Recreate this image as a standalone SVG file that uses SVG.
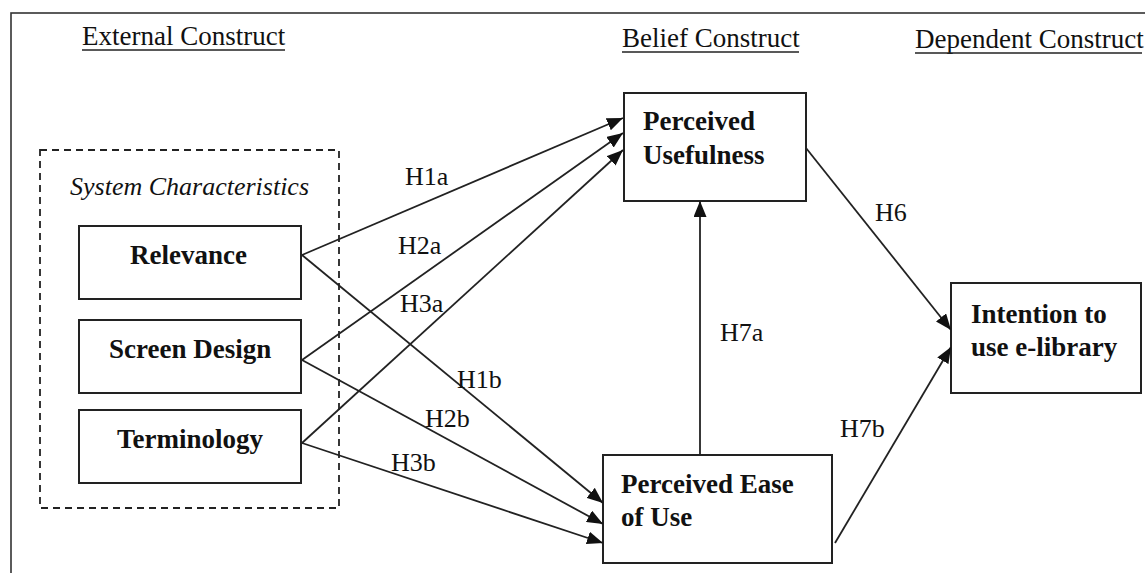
<svg xmlns="http://www.w3.org/2000/svg" width="1145" height="573" viewBox="0 0 1145 573">
<defs>
<style>
.box{fill:#fff;stroke:#222;stroke-width:2}
.hdr{font-family:"Liberation Serif","Times New Roman",serif;font-size:27px;fill:#111}
.node{font-family:"Liberation Serif","Times New Roman",serif;font-size:27px;font-weight:bold;fill:#111}
.lbl{font-family:"Liberation Serif","Times New Roman",serif;font-size:26px;fill:#111}
.conn line{stroke:#222;stroke-width:1.8;marker-end:url(#arr)}
.ul{stroke:#222;stroke-width:1.6}
</style>
<marker id="arr" markerUnits="userSpaceOnUse" markerWidth="16" markerHeight="13" refX="16" refY="6.5" orient="auto">
<path d="M0,0 L16,6.5 L0,13 z" fill="#111"/>
</marker>
</defs>
<rect x="0" y="0" width="1145" height="573" fill="#fff"/>
<rect x="11" y="13" width="1145" height="580" fill="none" stroke="#333" stroke-width="1.6"/>

<g id="headers">
<text class="hdr" x="82" y="45">External Construct</text>
<line class="ul" x1="82" y1="50" x2="285" y2="50"/>
<text class="hdr" x="622" y="47">Belief Construct</text>
<line class="ul" x1="622" y1="52" x2="799" y2="52"/>
<text class="hdr" x="915" y="48">Dependent Construct</text>
<line class="ul" x1="915" y1="53" x2="1142" y2="53"/>
</g>

<g id="system-characteristics">
<rect x="40" y="150" width="299" height="358" fill="none" stroke="#222" stroke-width="1.8" stroke-dasharray="7,5"/>
<text x="70" y="195" font-family="Liberation Serif, Times New Roman, serif" font-size="26" font-style="italic" fill="#111">System Characteristics</text>
</g>

<g id="relevance">
<rect class="box" x="79" y="226" width="222" height="73"/>
<text class="node" x="130" y="264">Relevance</text>
</g>
<g id="screen-design">
<rect class="box" x="79" y="320" width="222" height="73"/>
<text class="node" x="109" y="358">Screen Design</text>
</g>
<g id="terminology">
<rect class="box" x="79" y="410" width="222" height="73"/>
<text class="node" x="117" y="448">Terminology</text>
</g>
<g id="perceived-usefulness">
<rect class="box" x="624" y="93" width="182" height="108"/>
<text class="node" x="643" y="130">Perceived</text>
<text class="node" x="643" y="164">Usefulness</text>
</g>
<g id="perceived-ease-of-use">
<rect class="box" x="603" y="455" width="229" height="108"/>
<text class="node" x="621" y="493">Perceived Ease</text>
<text class="node" x="621" y="526">of Use</text>
</g>
<g id="intention">
<rect class="box" x="951" y="283" width="190" height="110"/>
<text class="node" x="971" y="323">Intention to</text>
<text class="node" x="971" y="356">use e-library</text>
</g>

<g id="connectors" class="conn">
<line x1="302" y1="255" x2="623" y2="118"/>
<line x1="302" y1="360" x2="623" y2="133"/>
<line x1="302" y1="443" x2="623" y2="150"/>
<line x1="302" y1="255" x2="603" y2="503"/>
<line x1="302" y1="360" x2="603" y2="524"/>
<line x1="302" y1="443" x2="603" y2="543"/>
<line x1="700" y1="455" x2="700" y2="201"/>
<line x1="806" y1="148" x2="951" y2="330"/>
<line x1="835" y1="543" x2="951" y2="347"/>
</g>

<g id="labels">
<text class="lbl" x="405" y="185">H1a</text>
<text class="lbl" x="398" y="254">H2a</text>
<text class="lbl" x="400" y="312">H3a</text>
<text class="lbl" x="457" y="388">H1b</text>
<text class="lbl" x="425" y="427">H2b</text>
<text class="lbl" x="391" y="471">H3b</text>
<text class="lbl" x="875" y="221">H6</text>
<text class="lbl" x="720" y="341">H7a</text>
<text class="lbl" x="840" y="437">H7b</text>
</g>
</svg>
